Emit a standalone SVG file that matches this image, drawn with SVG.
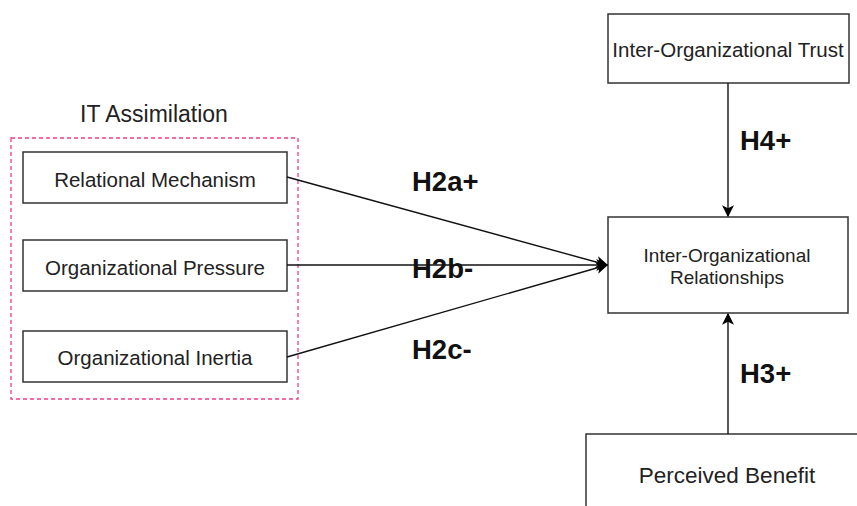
<svg xmlns="http://www.w3.org/2000/svg" width="857" height="506" viewBox="0 0 857 506">
<defs>
<marker id="arr" viewBox="0 0 10 10" refX="9" refY="5" markerWidth="12" markerHeight="12" markerUnits="userSpaceOnUse" orient="auto">
<path d="M0,0 L10,5 L0,10 L2.5,5 Z" fill="#000"/>
</marker>
<style>
.box{fill:#fff;stroke:#333;stroke-width:1.5}
.t{font-family:"Liberation Sans",Arial,sans-serif;font-size:20.5px;fill:#222;text-anchor:middle}
.big{font-size:23px}
.sm{font-size:19px}
.pb{font-size:22.5px}
.h{font-family:"Liberation Sans",Arial,sans-serif;font-size:27.5px;font-weight:bold;fill:#111}
.c{stroke:#111;stroke-width:1.4;fill:none;marker-end:url(#arr)}
</style>
</defs>
<rect width="857" height="506" fill="#fff"/>
<g id="group-it">
<rect x="11" y="138" width="287" height="261" fill="none" stroke="#ee3c8c" stroke-width="1.3" stroke-dasharray="4,3"/>
<text class="t big" x="154" y="122">IT Assimilation</text>
</g>
<g id="n-relational">
<rect class="box" x="23" y="152" width="264" height="51"/>
<text class="t" x="155" y="187">Relational Mechanism</text>
</g>
<g id="n-pressure">
<rect class="box" x="23" y="240" width="264" height="51"/>
<text class="t" x="155" y="275">Organizational Pressure</text>
</g>
<g id="n-inertia">
<rect class="box" x="23" y="331" width="264" height="51"/>
<text class="t" x="155" y="365">Organizational Inertia</text>
</g>
<g id="n-trust">
<rect class="box" x="608" y="14" width="241" height="69"/>
<text class="t" x="728" y="57">Inter-Organizational Trust</text>
</g>
<g id="n-rel">
<rect class="box" x="608" y="217" width="240" height="96"/>
<text class="t sm" x="727" y="262">Inter-Organizational</text>
<text class="t sm" x="727" y="284">Relationships</text>
</g>
<g id="n-benefit">
<rect class="box" x="586" y="434" width="290" height="90"/>
<text class="t pb" x="727" y="483">Perceived Benefit</text>
</g>
<g id="connectors">
<line class="c" x1="287" y1="177" x2="607" y2="265"/>
<line class="c" x1="287" y1="265" x2="607" y2="265"/>
<line class="c" x1="287" y1="357" x2="607" y2="265"/>
<line class="c" x1="728" y1="83" x2="728" y2="216"/>
<line class="c" x1="728" y1="434" x2="728" y2="314"/>
<text class="h" x="412" y="191">H2a+</text>
<text class="h" x="412" y="278">H2b-</text>
<text class="h" x="412" y="359">H2c-</text>
<text class="h" x="740" y="150">H4+</text>
<text class="h" x="740" y="383">H3+</text>
</g>
</svg>
